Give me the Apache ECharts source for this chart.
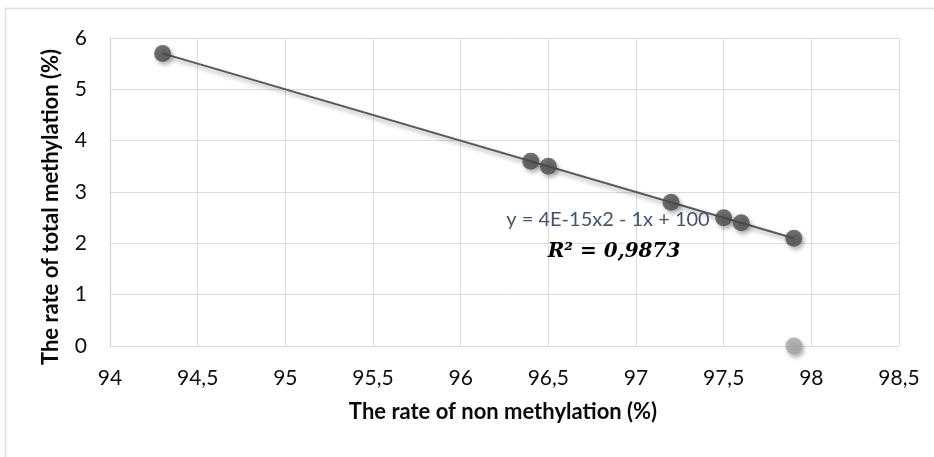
<!DOCTYPE html>
<html>
<head>
<meta charset="utf-8">
<script src="https://cdn.jsdelivr.net/npm/echarts@6/dist/echarts.min.js"></script>
<style>html,body{margin:0;padding:0;background:#fff}#c{width:934px;height:457px}</style>
</head>
<body>
<div id="c"></div>
<script>
const xValues = [94.3, 96.4, 96.5, 97.2, 97.5, 97.6, 97.9];
const yValues = [5.7, 3.6, 3.5, 2.8, 2.5, 2.4, 2.1];
const outlierPoint = [97.9, 0];
const trendStart = [94.3, 5.7];
const trendEnd = [97.9, 2.1];
const xTitle = 'The rate of non methylation (%)';
const yTitle = 'The rate of total methylation (%)';
const equationText = 'y = 4E-15x2 - 1x + 100';
const r2Text = 'R² = 0,9873';

const chart = echarts.init(document.getElementById('c'), null, {renderer: 'canvas'});
const gridColor = '#d9dde6';
const fmt = v => String(v).replace('.', ',');
const shadow = {shadowBlur: 4, shadowOffsetX: 2, shadowOffsetY: 3, shadowColor: 'rgba(0,0,0,0.38)'};

chart.setOption({
  animation: false,
  backgroundColor: '#fff',
  grid: {left: 110, right: 35, top: 38, bottom: 111},
  xAxis: {
    type: 'value', min: 94, max: 98.5, interval: 0.5,
    axisLine: {show: false}, axisTick: {show: false},
    splitLine: {show: true, lineStyle: {color: gridColor, width: 1}},
    axisLabel: {formatter: fmt, margin: 22, color: '#0d0d0d', fontFamily: 'Lato', fontSize: 21}
  },
  yAxis: {
    type: 'value', min: 0, max: 6, interval: 1,
    axisLine: {show: true, lineStyle: {color: '#c9cedd', width: 1}}, axisTick: {show: false},
    splitLine: {show: true, lineStyle: {color: gridColor, width: 1}},
    axisLabel: {formatter: fmt, margin: 23, color: '#0d0d0d', fontFamily: 'Lato', fontSize: 21}
  },
  graphic: [
    {type: 'rect', silent: true, z: -10, shape: {x: 5.5, y: 8.5, width: 1000, height: 1000},
     style: {fill: 'none', stroke: '#dcdfe5', lineWidth: 1.5}},
    {type: 'text', x: 503, y: 412, style: {text: xTitle, font: 'bold 22px Lato', fill: '#0a0a0a', align: 'center', verticalAlign: 'middle'}},
    {type: 'text', x: 51, y: 207, rotation: Math.PI / 2, style: {text: yTitle, font: 'bold 22px Lato', fill: '#0a0a0a', align: 'center', verticalAlign: 'middle'}},
    {type: 'text', x: 608, y: 220, z: 10, style: {text: equationText, font: '20px Lato', fill: '#44546a', align: 'center', verticalAlign: 'middle'}},
    {type: 'text', x: 614, y: 252, z: 10, style: {text: r2Text, font: 'italic bold 20px "DejaVu Serif"', fill: '#000', align: 'center', verticalAlign: 'middle'}}
  ],
  series: [
    {
      type: 'line', data: [trendStart, trendEnd], symbol: 'none', z: 2,
      lineStyle: Object.assign({color: '#595959', width: 2}, shadow)
    },
    {
      type: 'scatter', data: xValues.map((x, i) => [x, yValues[i]]), symbolSize: 17, z: 3,
      itemStyle: Object.assign({color: '#4d4d4d'}, shadow)
    },
    {
      type: 'scatter', data: [outlierPoint], symbolSize: 17, z: 3,
      itemStyle: Object.assign({color: '#a6a6a6'}, shadow)
    }
  ]
});
</script>
</body>
</html>
